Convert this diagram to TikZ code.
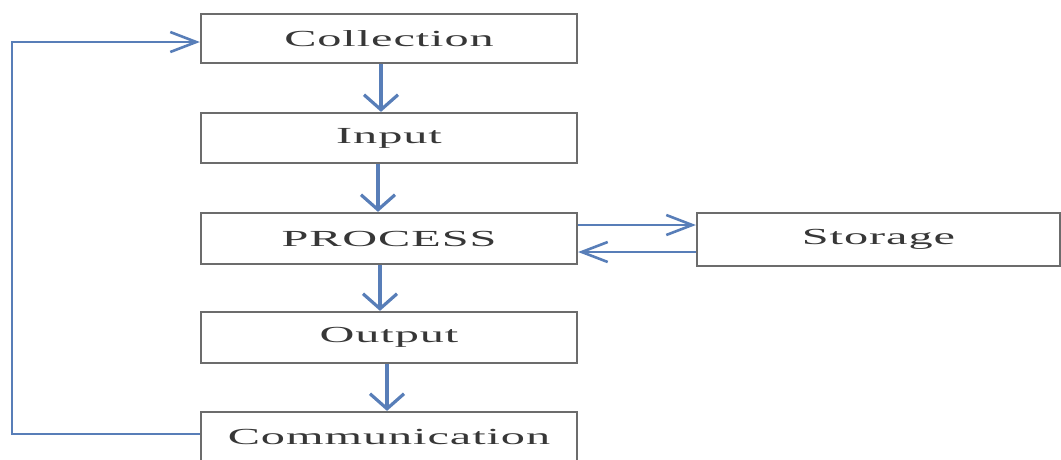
\documentclass[tikz,border=0pt]{standalone}
\usepackage{fontspec}
\newfontfamily\boxfont{Liberation Serif}[FakeStretch=2.1,LetterSpace=4]
\usetikzlibrary{arrows.meta}
\definecolor{flowblue}{RGB}{88,126,184}
\definecolor{boxgray}{RGB}{108,108,108}
\definecolor{textgray}{RGB}{55,55,55}
\tikzset{
  stagebox/.style={draw=boxgray, line width=2.2pt, fill=white,
    minimum width=376pt, minimum height=50pt, inner sep=0pt,
    text=textgray, font=\boxfont\fontsize{23}{26}\selectfont},
  vflow/.style={draw=flowblue, line width=3.2pt,
    -{Straight Barb[length=15pt,width=34pt]}},
  hflow/.style={draw=flowblue, line width=2.6pt,
    -{Straight Barb[length=26pt,width=20pt]}},
}
\begin{document}
\begin{tikzpicture}[x=1pt,y=-1pt]
\useasboundingbox (0,0) rectangle (1061,459);
% stages of the cycle
\node[stagebox, minimum height=49pt] (col) at (389,38.5) {Collection};
\node[stagebox] (inp) at (389,138) {Input};
\node[stagebox, minimum height=51pt] (pro) at (389,238.5) {PROCESS};
\node[stagebox, minimum height=51pt] (out) at (389,337.5) {Output};
\node[stagebox] (com) at (389,437) {Communication};
\node[stagebox, minimum width=363pt, minimum height=53pt] (sto) at (878.5,239.5) {Storage};
% main flow
\draw[vflow] ([xshift=-8pt]col.south) -- ([xshift=-8pt]inp.north);
\draw[vflow] ([xshift=-11pt]inp.south) -- ([xshift=-11pt]pro.north);
\draw[vflow] ([xshift=-9pt]pro.south) -- ([xshift=-9pt]out.north);
\draw[vflow] ([xshift=-2pt]out.south) -- ([xshift=-2pt]com.north);
% exchange with storage
\coordinate (pu) at ([yshift=13.5pt]pro.east);
\coordinate (pd) at ([yshift=-13.5pt]pro.east);
\draw[hflow] (pu) -- (sto.west |- pu);
\draw[hflow] (sto.west |- pd) -- (pd);
% feedback loop
\draw[hflow] ([yshift=3pt]com.west) -- ++(-188,0) |- ([yshift=-3.5pt]col.west);
\end{tikzpicture}
\end{document}
